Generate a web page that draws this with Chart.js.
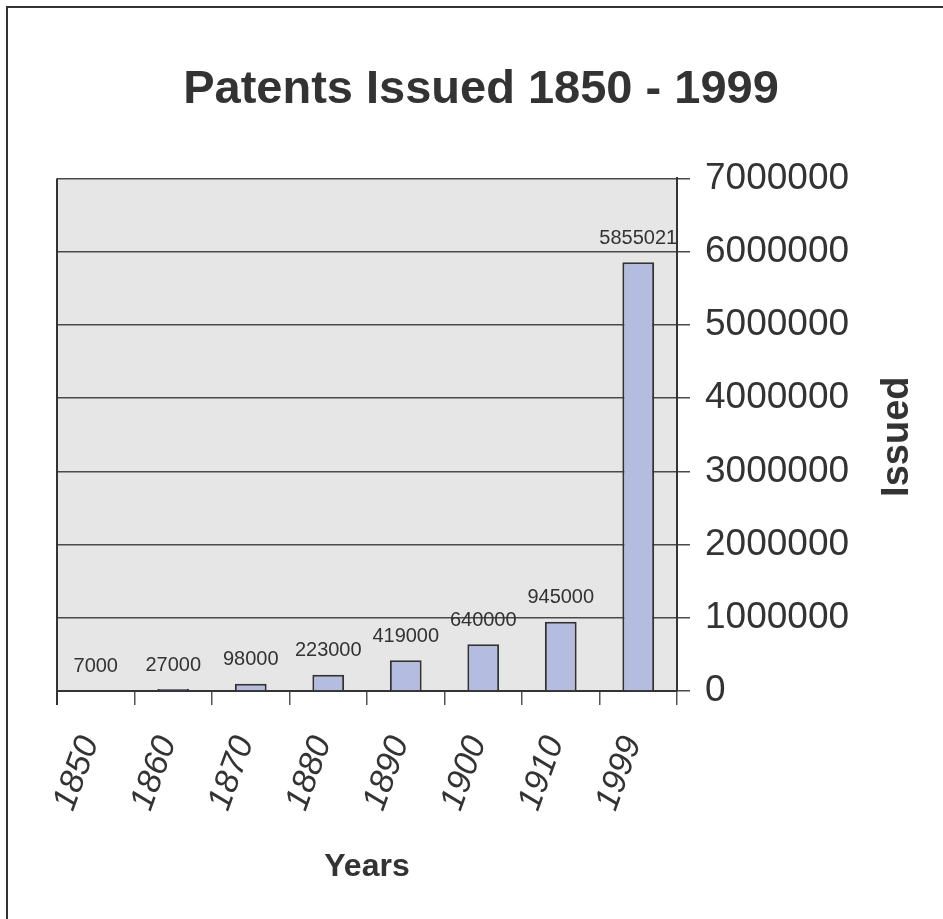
<!DOCTYPE html>
<html>
<head>
<meta charset="utf-8">
<title>Patents Issued 1850 - 1999</title>
<script src="https://cdn.jsdelivr.net/npm/chart.js@4.4.1/dist/chart.umd.min.js"></script>
<style>
  html, body { margin: 0; padding: 0; background: #fff; overflow: hidden; }
  #frame {
    position: absolute; left: 6px; top: 6px; width: 1000px; height: 1000px;
    border-left: 2px solid #333; border-top: 2px solid #333;
  }
  #chart { position: absolute; left: 0; top: 0; }
</style>
</head>
<body>
<div id="frame"></div>
<canvas id="chart" width="943" height="919"></canvas>
<script>
const years = ['1850', '1860', '1870', '1880', '1890', '1900', '1910', '1999'];
const issued = [7000, 27000, 98000, 223000, 419000, 640000, 945000, 5855021];
const yTicks = [0, 1000000, 2000000, 3000000, 4000000, 5000000, 6000000, 7000000];

const FONT = "'Liberation Sans', Arial, sans-serif";
const TEXT = '#333';

// grey plot background + left edge of the plot box
const plotBox = {
  id: 'plotBox',
  beforeDraw(chart) {
    const {ctx, chartArea: {left, top, width, height}} = chart;
    ctx.save();
    ctx.fillStyle = '#e6e6e6';
    ctx.fillRect(left, top, width, height);
    ctx.restore();
  },
  afterDraw(chart) {
    const {ctx, chartArea: {left, top, bottom}} = chart;
    ctx.save();
    ctx.strokeStyle = '#333';
    ctx.lineWidth = 2;
    ctx.beginPath();
    ctx.moveTo(left, top);
    ctx.lineTo(left, bottom + 14);
    ctx.stroke();
    // y axis title, reads bottom to top
    ctx.fillStyle = TEXT;
    ctx.font = 'bold 38px ' + FONT;
    ctx.textAlign = 'center';
    ctx.textBaseline = 'middle';
    ctx.translate(chart.chartArea.right + 221, (top + bottom) / 2 + 2);
    ctx.rotate(-Math.PI / 2);
    ctx.fillText('Issued', 0, 0);
    ctx.restore();
  }
};

// value labels above the bars
const valueLabels = {
  id: 'valueLabels',
  afterDatasetsDraw(chart) {
    const {ctx, chartArea} = chart;
    const meta = chart.getDatasetMeta(0);
    ctx.save();
    ctx.beginPath();
    ctx.rect(chartArea.left, chartArea.top - 40, chartArea.width, chartArea.height + 40);
    ctx.clip();
    ctx.fillStyle = TEXT;
    ctx.font = '20px ' + FONT;
    ctx.textAlign = 'center';
    ctx.textBaseline = 'middle';
    meta.data.forEach((bar, i) => {
      ctx.fillText(String(issued[i]), bar.x, bar.y - 24);
    });
    ctx.restore();
  }
};

const data = {
  labels: years,
  datasets: [{
    label: 'Issued',
    data: issued,
    backgroundColor: '#b4bcdf',
    borderColor: '#333',
    borderWidth: 2,
    categoryPercentage: 1,
    barPercentage: 0.41
  }]
};

const config = {
  type: 'bar',
  data: data,
  options: {
    responsive: false,
    animation: false,
    layout: { padding: { left: 57, right: 38, top: 0, bottom: 0 } },
    plugins: {
      legend: { display: false },
      tooltip: { enabled: false },
      title: {
        display: true,
        text: 'Patents Issued 1850 - 1999',
        color: TEXT,
        font: { family: FONT, size: 47, weight: 'bold' },
        padding: { top: 62, bottom: 60 }
      }
    },
    scales: {
      x: {
        afterFit(scale) { scale.height = 228; },
        grid: {
          offset: true,
          drawOnChartArea: false,
          tickLength: 14,
          color: '#555',
          lineWidth: 1.5
        },
        border: { display: true, color: '#333', width: 2 },
        ticks: {
          color: TEXT,
          font: { family: FONT, size: 34, style: 'italic' },
          minRotation: 70,
          maxRotation: 70,
          labelOffset: -6,
          padding: 26
        },
        title: {
          display: true,
          text: 'Years',
          color: TEXT,
          font: { family: FONT, size: 32, weight: 'bold' },
          padding: { top: 0, bottom: 33 }
        }
      },
      y: {
        position: 'right',
        min: 0,
        max: 7000000,
        afterFit(scale) { scale.width = 228; },
        afterBuildTicks(scale) { scale.ticks = yTicks.map(v => ({value: v})); },
        grid: {
          color: '#4a4a4a',
          lineWidth: 1.5,
          tickLength: 13
        },
        border: { display: true, color: '#333', width: 2 },
        ticks: {
          color: TEXT,
          font: { family: FONT, size: 37 },
          padding: 15,
          callback: v => String(v)
        }
      }
    }
  },
  plugins: [plotBox, valueLabels]
};

var ctx = document.getElementById('chart');
var myChart = new Chart(ctx, config);
</script>
</body>
</html>
